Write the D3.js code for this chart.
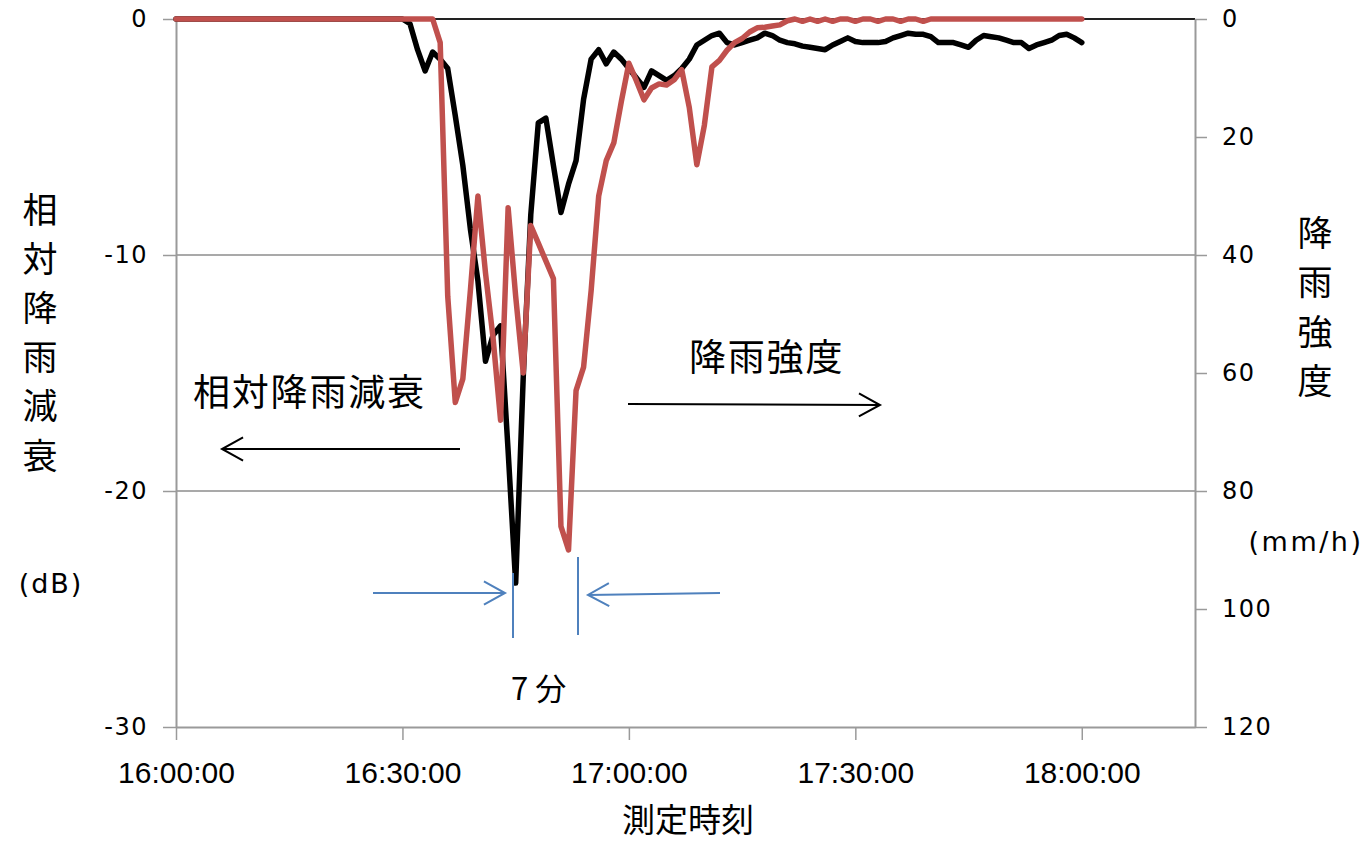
<!DOCTYPE html>
<html>
<head>
<meta charset="utf-8">
<script src="https://cdn.jsdelivr.net/npm/d3@7"></script>
<style>
  body { margin: 0; background: #fff; }
  svg { display: block; }
  .jp { font-family: "Noto Sans CJK JP", "Noto Sans", sans-serif; fill: #000; }
  .num { font-family: "DejaVu Sans", sans-serif; }
</style>
</head>
<body>
<svg id="chart" width="1369" height="842"></svg>
<script>
// One reading per minute, starting at 16:00:00
const startTime = "16:00:00";
const domainEnd = "18:15:00";

// Relative rain attenuation (dB), 16:00 .. 18:00
const attenuationDb = [
  0, 0, 0, 0, 0, 0, 0, 0, 0, 0,
  0, 0, 0, 0, 0, 0, 0, 0, 0, 0,
  0, 0, 0, 0, 0, 0, 0, 0, 0, 0,
  0, -0.2, -1.3, -2.2, -1.4, -1.7, -2.1, -4.1, -6.2, -8.9,
  -11.1, -14.5, -13.4, -13.0, -18.3, -23.9, -15.2, -8.3, -4.4, -4.2,
  -6.2, -8.2, -7.0, -6.0, -3.4, -1.7, -1.3, -1.9, -1.4, -1.7,
  -2.1, -2.5, -2.9, -2.2, -2.4, -2.6, -2.4, -2.1, -1.7, -1.1,
  -0.9, -0.7, -0.6, -1.0, -1.1, -1.0, -0.9, -0.8, -0.6, -0.7,
  -0.9, -1.0, -1.05, -1.15, -1.2, -1.25, -1.3, -1.1, -0.95, -0.8,
  -0.95, -1.0, -1.0, -1.0, -0.95, -0.8, -0.7, -0.6, -0.65, -0.65,
  -0.75, -1.0, -1.0, -1.0, -1.1, -1.2, -0.9, -0.7, -0.75, -0.8,
  -0.9, -1.0, -1.0, -1.25, -1.1, -1.0, -0.9, -0.7, -0.65, -0.8,
  -1.0
];

// Rain intensity (mm/h), 16:00 .. 18:00
const rainRate = [
  0, 0, 0, 0, 0, 0, 0, 0, 0, 0,
  0, 0, 0, 0, 0, 0, 0, 0, 0, 0,
  0, 0, 0, 0, 0, 0, 0, 0, 0, 0,
  0, 0, 0, 0, 0, 4, 47, 65, 61, 46,
  30, 43, 54, 68, 32, 47, 60, 35, 38, 41,
  44, 86, 90, 63, 59, 46, 30, 24, 21, 14,
  7.5, 10.5, 13.7, 11.7, 11, 11.2, 10.3, 8.6, 15, 24.7,
  18, 8.1, 7, 5.3, 4, 3.3, 2.2, 1.5, 1.4, 1.2,
  1, 0.3, 0, 0.4, 0, 0.4, 0, 0.4, 0, 0,
  0.4, 0, 0, 0.4, 0, 0, 0.4, 0, 0, 0.4,
  0, 0, 0, 0, 0, 0, 0, 0, 0, 0,
  0, 0, 0, 0, 0, 0, 0, 0, 0, 0,
  0
];

const leftTicks = [0, -10, -20, -30];
const rightTicks = [0, 20, 40, 60, 80, 100, 120];
const timeTicks = ["16:00:00", "16:30:00", "17:00:00", "17:30:00", "18:00:00"];
const gridValues = [-10, -20];

const leftTitle = ["相", "対", "降", "雨", "減", "衰"];
const rightTitle = ["降", "雨", "強", "度"];

const parse = d3.timeParse("%H:%M:%S");
const t0 = parse(startTime);
const times = attenuationDb.map((_, i) => d3.timeMinute.offset(t0, i));

const plot = { left: 176, right: 1195, top: 19, bottom: 727 };

const x = d3.scaleTime().domain([t0, parse(domainEnd)]).range([plot.left, plot.right]);
const yL = d3.scaleLinear().domain([-30, 0]).range([plot.bottom, plot.top]);
const yR = d3.scaleLinear().domain([120, 0]).range([plot.bottom, plot.top]);

const svg = d3.select("#chart");
const axisGray = "#9a9a9a";

// Horizontal gridlines
svg.append("g").selectAll("line").data(gridValues).join("line")
  .attr("x1", plot.left).attr("x2", plot.right)
  .attr("y1", d => yL(d)).attr("y2", d => yL(d))
  .attr("stroke", "#8c8c8c").attr("stroke-width", 1.5);

// Zero line along the top
svg.append("line")
  .attr("x1", plot.left).attr("x2", plot.right)
  .attr("y1", yL(0)).attr("y2", yL(0))
  .attr("stroke", "#222").attr("stroke-width", 2);

// Left axis (plain hyphen for negatives)
const gL = svg.append("g").attr("transform", `translate(${plot.left},0)`)
  .call(d3.axisLeft(yL).tickValues(leftTicks).tickFormat(d => String(d))
    .tickSize(13).tickSizeOuter(0).tickPadding(15));
// Right axis
const gR = svg.append("g").attr("transform", `translate(${plot.right},0)`)
  .call(d3.axisRight(yR).tickValues(rightTicks).tickSize(12).tickSizeOuter(0).tickPadding(15));
// Bottom axis
const gB = svg.append("g").attr("transform", `translate(0,${plot.bottom})`)
  .call(d3.axisBottom(x).tickValues(timeTicks.map(parse))
    .tickFormat(d3.timeFormat("%H:%M:%S")).tickSize(13).tickSizeOuter(0).tickPadding(22));

[gL, gR, gB].forEach(g => {
  g.select(".domain").attr("stroke", axisGray).attr("stroke-width", 2);
  g.selectAll(".tick line").attr("stroke", axisGray).attr("stroke-width", 1.5);
});
[gL, gR].forEach(g => {
  g.selectAll(".tick text")
    .attr("font-family", "DejaVu Sans, sans-serif")
    .attr("font-size", 24).attr("letter-spacing", 1.5).attr("fill", "#000");
});
gB.selectAll(".tick text")
  .attr("font-family", "Liberation Sans, sans-serif")
  .attr("font-size", 30).attr("fill", "#000");

// Series lines
const lineDb = d3.line().x((d, i) => x(times[i])).y(d => yL(d));
const lineRain = d3.line().x((d, i) => x(times[i])).y(d => yR(d));

svg.append("path").datum(attenuationDb)
  .attr("d", lineDb).attr("fill", "none")
  .attr("stroke", "#000").attr("stroke-width", 5.5)
  .attr("stroke-linejoin", "round").attr("stroke-linecap", "round");

svg.append("path").datum(rainRate)
  .attr("d", lineRain).attr("fill", "none")
  .attr("stroke", "#C0504D").attr("stroke-width", 5.5)
  .attr("stroke-linejoin", "round").attr("stroke-linecap", "round");

// Axis titles
svg.append("g").selectAll("text").data(leftTitle).join("text")
  .attr("class", "jp").attr("x", 40).attr("y", (d, i) => 207 + i * 49.2)
  .attr("text-anchor", "middle").attr("dominant-baseline", "central")
  .attr("font-size", 35).text(d => d);
svg.append("text").attr("class", "num").attr("x", 51).attr("y", 583)
  .attr("text-anchor", "middle").attr("dominant-baseline", "central")
  .attr("font-size", 27).attr("letter-spacing", 2).text("(dB)");

svg.append("g").selectAll("text").data(rightTitle).join("text")
  .attr("class", "jp").attr("x", 1315).attr("y", (d, i) => 230 + i * 49.5)
  .attr("text-anchor", "middle").attr("dominant-baseline", "central")
  .attr("font-size", 35).text(d => d);
svg.append("text").attr("class", "num").attr("x", 1306).attr("y", 541)
  .attr("text-anchor", "middle").attr("dominant-baseline", "central")
  .attr("font-size", 27).attr("letter-spacing", 2.5).text("(mm/h)");

svg.append("text").attr("class", "jp").attr("x", 688).attr("y", 818)
  .attr("text-anchor", "middle").attr("dominant-baseline", "central")
  .attr("font-size", 33).text("測定時刻");

// Annotations: series labels with direction arrows
const ann = svg.append("g");
ann.append("text").attr("class", "jp").attr("x", 193).attr("y", 390)
  .attr("dominant-baseline", "central").attr("font-size", 37)
  .attr("letter-spacing", 1.8).text("相対降雨減衰");
ann.append("text").attr("class", "jp").attr("x", 689).attr("y", 355)
  .attr("dominant-baseline", "central").attr("font-size", 37)
  .attr("letter-spacing", 1.8).text("降雨強度");

function arrow(g, x1, y1, x2, y2, color, w) {
  const ang = Math.atan2(y2 - y1, x2 - x1);
  const len = 24, spread = 0.5;
  g.append("line").attr("x1", x1).attr("y1", y1).attr("x2", x2).attr("y2", y2)
    .attr("stroke", color).attr("stroke-width", w);
  g.append("path")
    .attr("d", `M${x2 - len * Math.cos(ang - spread)},${y2 - len * Math.sin(ang - spread)}L${x2},${y2}L${x2 - len * Math.cos(ang + spread)},${y2 - len * Math.sin(ang + spread)}`)
    .attr("fill", "none").attr("stroke", color).attr("stroke-width", w);
}
arrow(ann, 460, 449, 222, 449, "#000", 2);
arrow(ann, 628, 404, 880, 405, "#000", 2);

// Peak-to-peak delay marker
const blue = "#4F81BD";
arrow(ann, 373, 593, 505, 593, blue, 2);
arrow(ann, 720, 593, 588, 595, blue, 2);
ann.append("line").attr("x1", 513).attr("x2", 513).attr("y1", 573).attr("y2", 638)
  .attr("stroke", blue).attr("stroke-width", 2);
ann.append("line").attr("x1", 578).attr("x2", 578).attr("y1", 557).attr("y2", 635)
  .attr("stroke", blue).attr("stroke-width", 2);
ann.append("text").attr("class", "jp").attr("x", 511).attr("y", 686)
  .attr("dominant-baseline", "central").attr("font-size", 31).text("7 分");
</script>
</body>
</html>
